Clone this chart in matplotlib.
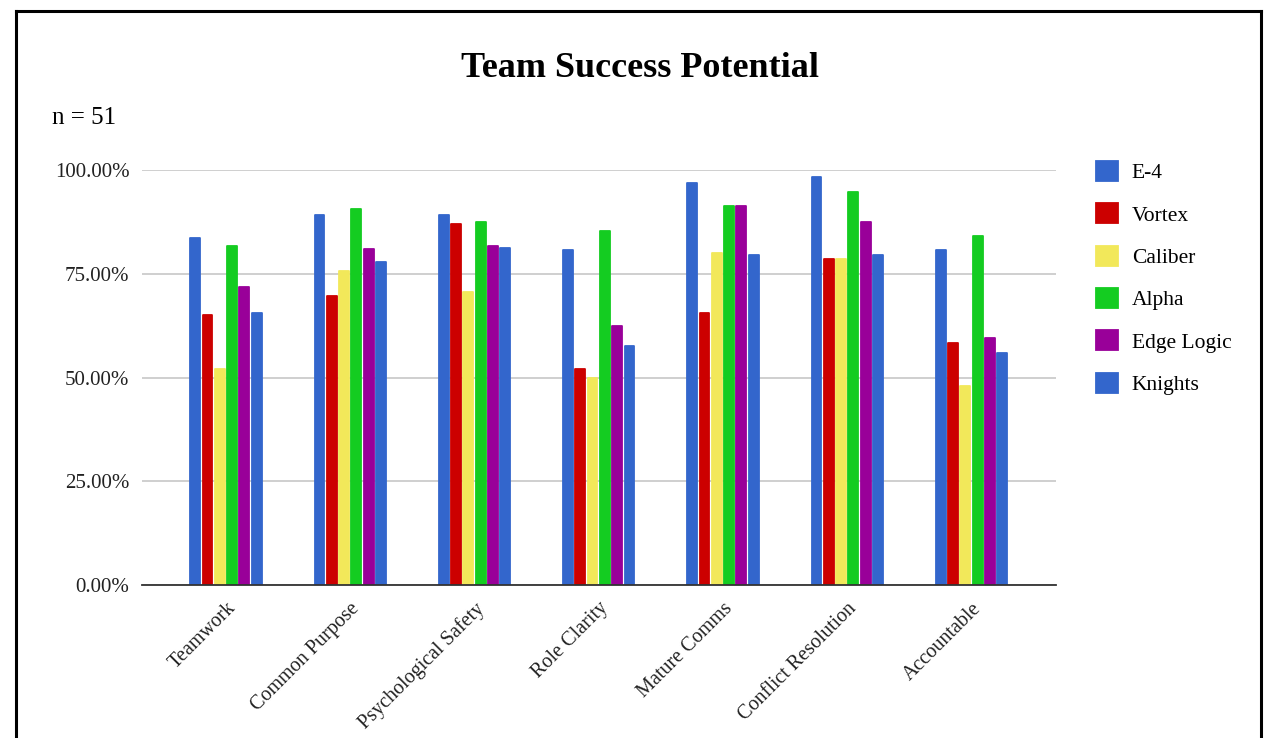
import numpy as np
import matplotlib.pyplot as plt
from matplotlib.lines import Line2D
from matplotlib.ticker import PercentFormatter

plt.rcParams['font.family'] = ['Liberation Serif', 'DejaVu Serif']

categories = ['Teamwork', 'Common Purpose', 'Psychological Safety', 'Role Clarity',
              'Mature Comms', 'Conflict Resolution', 'Accountable']
teams = ['E-4', 'Vortex', 'Caliber', 'Alpha', 'Edge Logic', 'Knights']
colors = ['#3366cc', '#cc0000', '#f2e85a', '#14cc21', '#990099', '#3366cc']

e4        = [83.6, 89.2, 89.2, 80.9, 97.0, 98.4, 80.9]
vortex    = [65.2, 69.6, 87.1, 52.1, 65.6, 78.7, 58.3]
caliber   = [52.1, 75.7, 70.8, 49.9, 80.0, 78.7, 48.1]
alpha     = [81.9, 90.6, 87.5, 85.3, 91.4, 94.9, 84.3]
edge      = [71.8, 81.1, 81.9, 62.6, 91.4, 87.5, 59.5]
knights   = [65.6, 77.9, 81.4, 57.7, 79.5, 79.5, 56.0]
series = [e4, vortex, caliber, alpha, edge, knights]

fig = plt.figure(figsize=(12.64, 7.38), dpi=100)
ax = fig.add_axes([0.1123, 0.2073, 0.7231, 0.5617])

x = np.arange(len(categories))
slot = 0.099
for i, (name, vals, c) in enumerate(zip(teams, series, colors)):
    offs = (i - 2.5) * slot
    ax.bar(x + offs, vals, width=slot * 0.8, color=c, edgecolor=c,
           linewidth=1.3, joinstyle='round', label=name, zorder=3)

ax.set_ylim(0, 100)
ax.set_xlim(-0.676, 6.68)
ax.set_yticks([0, 25, 50, 75, 100])
ax.yaxis.set_major_formatter(PercentFormatter(decimals=2))
ax.grid(axis='y', color='#cccccc', linewidth=1.3, zorder=0)
for s in ['top', 'right', 'left']:
    ax.spines[s].set_visible(False)
ax.spines['bottom'].set_color('#333333')
ax.spines['bottom'].set_linewidth(1.3)
ax.spines['bottom'].set_zorder(4)
ax.tick_params(length=0, labelsize=15, colors='#222222', pad=9)
ax.set_xticks(x)
ax.set_xticklabels(categories, rotation=45, ha='right', rotation_mode='anchor',
                   fontsize=14.5)
ax.tick_params(axis='x', pad=10)

fig.text(0.5063, 0.907, 'Team Success Potential', ha='center', va='center',
         fontsize=26, fontweight='bold', family='Liberation Serif')
fig.text(0.041, 0.84, 'n = 51', ha='left', va='center', fontsize=18)

leg = ax.legend(loc='upper left', bbox_to_anchor=(1.023, 1.07), frameon=False,
                fontsize=15.5, handlelength=1.0, handleheight=1.05,
                labelspacing=0.93, handletextpad=0.65)

# frame around the chart (no bottom edge)
lw = 2.2
fig.add_artist(Line2D([16/1264, 16/1264], [0, 1 - 11/738], color='black', lw=lw))
fig.add_artist(Line2D([1261/1264, 1261/1264], [0, 1 - 11/738], color='black', lw=lw))
fig.add_artist(Line2D([16/1264, 1261/1264], [1 - 11/738, 1 - 11/738], color='black', lw=lw))

fig.savefig('out.png', dpi=100)
